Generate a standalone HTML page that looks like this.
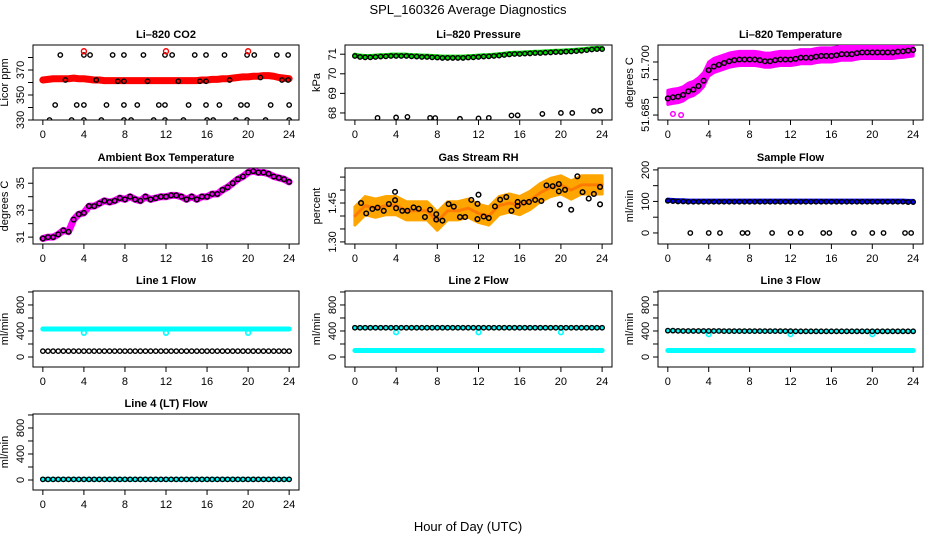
<!DOCTYPE html>
<html><head><meta charset="utf-8"><style>
html,body{margin:0;padding:0;background:#fff}
svg{display:block;font-family:"Liberation Sans",Arial,sans-serif}
</style></head><body>
<svg id="chart" width="936" height="540" viewBox="0 0 936 540" xmlns="http://www.w3.org/2000/svg">
<text x="468" y="14" text-anchor="middle" font-size="13">SPL_160326  Average Diagnostics</text>
<text x="468" y="531" text-anchor="middle" font-size="13">Hour of Day (UTC)</text>
</svg>
<script>
// ---- data (half-hour steps 0..24 unless times given) ----
const co2Band = [362,362.5,363,363,363,363,363.5,363,363,362.5,362,362,361.5,361.5,361.5,361.5,361.5,361.5,361.5,361.5,361.5,361.5,361.5,361.5,361.5,361.5,361.5,361.5,361.5,361.5,361.5,362,362,362.5,362.5,363,363,363.5,364,364.5,364.5,365,365,365.5,365.5,365,364,363.5,363];
const co2BlackT = [1.7,4.0,4.6,6.8,7.9,9.8,11.9,12.6,14.8,15.9,17.7,19.9,20.6,22.8,23.9, 1.2,3.3,4.0,6.2,7.9,9.2,11.3,11.9,14.2,15.9,17.2,19.3,19.9,22.2,24.0, 0.65,2.8,4.0,5.7,7.9,8.6,10.8,11.9,13.7,16.0,16.6,18.8,19.9,21.7,24.0, 2.2,5.2,7.3,7.9,10.2,13.2,15.3,15.9,18.2,21.2,23.3,23.9];
const co2BlackV = [382,382,382,382,382,382,382,382,382,382,382,382,382,382,382, 342,342,342,342,342,342,342,342,342,342,342,342,342,342,342, 330,330,330,330,330,330,330,330,330,330,330,330,330,330,330, 362,362,361,361,361,361,361,361,362,364,362,362];
const co2RedT = [4,12,20];
const co2RedV = [385,385,385];

const presBand = [70.95,70.9,70.88,70.88,70.9,70.92,70.93,70.95,70.95,70.95,70.95,70.93,70.92,70.9,70.9,70.88,70.87,70.85,70.85,70.85,70.85,70.85,70.87,70.88,70.9,70.92,70.93,70.95,70.97,71.0,71.03,71.05,71.05,71.07,71.08,71.1,71.1,71.12,71.13,71.15,71.15,71.17,71.18,71.2,71.22,71.25,71.28,71.3,71.3];
const presLowT = [2.2,4.0,5.1,7.3,7.8,10.2,12.0,13.0,15.2,15.8,18.2,20.0,21.1,23.2,23.8];
const presLowV = [67.75,67.77,67.8,67.75,67.74,67.7,67.72,67.75,67.87,67.88,67.95,68.0,68.0,68.1,68.12];

const tempBand = [51.690,51.6903,51.6905,51.691,51.692,51.6925,51.6935,51.695,51.698,51.699,51.6995,51.700,51.7005,51.7008,51.701,51.701,51.701,51.701,51.7008,51.7005,51.7005,51.7008,51.701,51.701,51.701,51.7012,51.7015,51.7015,51.7015,51.7018,51.702,51.702,51.702,51.7022,51.7025,51.7025,51.7025,51.7028,51.703,51.703,51.703,51.703,51.703,51.703,51.703,51.7032,51.7033,51.7035,51.7037];
const tempOutT = [0.5,1.3];
const tempOutV = [51.6853,51.6850];

const ambTemp = [30.9,31.0,31.0,31.2,31.5,31.4,32.3,32.7,32.8,33.3,33.3,33.5,33.7,33.6,33.7,33.9,33.8,34.0,33.8,33.7,34.0,33.8,33.9,34.0,34.0,34.1,34.1,34.0,33.8,34.0,33.8,34.0,34.0,34.2,34.2,34.5,34.7,35.0,35.3,35.5,35.8,35.9,35.8,35.8,35.7,35.5,35.4,35.3,35.1];

const rhCenter = [1.40,1.44,1.43,1.44,1.44,1.42,1.42,1.42,1.38,1.42,1.42,1.43,1.41,1.40,1.44,1.45,1.44,1.46,1.49,1.51,1.52,1.50,1.52,1.52,1.52];
const rhBlackT = [0.6,1.1,1.7,2.2,2.8,3.3,3.9,3.9,4.0,4.6,5.1,5.7,6.2,6.8,7.3,7.9,7.9,8.5,9.1,9.6,10.2,10.7,11.3,11.9,11.9,12.0,12.5,13.0,13.6,14.1,14.7,15.2,15.8,15.8,16.4,16.9,17.5,18.1,18.6,19.2,19.8,19.8,19.9,20.4,21.0,21.6,22.1,22.7,23.2,23.8,23.8];
const rhBlackV = [1.450,1.410,1.427,1.432,1.420,1.446,1.493,1.461,1.430,1.420,1.420,1.433,1.428,1.396,1.424,1.407,1.386,1.382,1.446,1.436,1.396,1.396,1.462,1.388,1.447,1.482,1.398,1.392,1.437,1.463,1.473,1.420,1.439,1.454,1.452,1.454,1.462,1.458,1.518,1.515,1.495,1.523,1.444,1.501,1.424,1.553,1.492,1.467,1.485,1.445,1.512];

const sampleBlue = [104,103,102,102,101,101,101,101,101,101,101,101,101,101,101,101,101,101,101,101,101,101,101,101,101,101,101,101,101,101,101,101,101,101,101,101,101,101,101,101,101,101,101,101,101,101,101,100,100];
const sampleZeroT = [2.2,4.0,5.1,7.3,7.8,10.2,12.0,13.0,15.2,15.8,18.2,20.0,21.1,23.2,23.8];
const sampleZeroV = [0,0,0,0,0,0,0,0,0,0,0,0,0,0,0];

const line1Cyan = [430,430,430,430,430,430,430,430,430,430,430,430,430,430,430,430,430,430,430,430,430,430,430,430,430,430,430,430,430,430,430,430,430,430,430,430,430,430,430,430,430,430,430,430,430,430,430,430,430];
const line1Black = [90,90,90,90,90,90,90,90,90,90,90,90,90,90,90,90,90,90,90,90,90,90,90,90,90,90,90,90,90,90,90,90,90,90,90,90,90,90,90,90,90,90,90,90,90,90,90,90,90];
const line2Cyan = [100,100,100,100,100,100,100,100,100,100,100,100,100,100,100,100,100,100,100,100,100,100,100,100,100,100,100,100,100,100,100,100,100,100,100,100,100,100,100,100,100,100,100,100,100,100,100,100,100];
const line2Black = [450,450,450,450,450,450,450,450,450,450,450,450,450,450,450,450,450,450,450,450,450,450,450,450,450,450,450,450,450,450,450,450,450,450,450,450,450,450,450,450,450,450,450,450,450,450,450,450,450];
const line3Cyan = [100,100,100,100,100,100,100,100,100,100,100,100,100,100,100,100,100,100,100,100,100,100,100,100,100,100,100,100,100,100,100,100,100,100,100,100,100,100,100,100,100,100,100,100,100,100,100,100,100];
const line3Black = [405,405,402,400,400,400,400,400,400,400,400,398,398,398,398,398,398,398,398,398,398,398,398,398,398,395,395,395,395,395,395,395,395,395,395,395,395,395,395,395,395,395,395,395,395,395,395,395,395];
const line4Cyan = [10,10,10,10,10,10,10,10,10,10,10,10,10,10,10,10,10,10,10,10,10,10,10,10,10,10,10,10,10,10,10,10,10,10,10,10,10,10,10,10,10,10,10,10,10,10,10,10,10];
const line4Black = [10,10,10,10,10,10,10,10,10,10,10,10,10,10,10,10,10,10,10,10,10,10,10,10,10,10,10,10,10,10,10,10,10,10,10,10,10,10,10,10,10,10,10,10,10,10,10,10,10];
const cyanDipT = [4,12,20];
const line1DipV = [370,370,370];
const line2DipV = [380,380,380];
const line3DipV = [350,350,350];

const xTicks = [0,4,8,12,16,20,24];

const NS = "http://www.w3.org/2000/svg";
const svg = document.getElementById('chart');
function mk(tag, attrs, parent){const e=document.createElementNS(NS,tag);for(const k in attrs)e.setAttribute(k,attrs[k]);(parent||svg).appendChild(e);return e;}

const cols = [{l:33,r:299},{l:345,r:612},{l:658,r:923}];
const rows = [{t:45,b:120},{t:168,b:244},{t:291,b:367},{t:414,b:490}];

function panel(name, c, r, title, ytitle, dom, ticks, labels, fmt){
  const g = mk('g',{});
  
  
  const L=cols[c].l, R=cols[c].r, T=rows[r].t, B=rows[r].b;
  const x0 = L + (R-L)*0.04/1.08, x1 = R - (R-L)*0.04/1.08;
  const xs = h => x0 + (x1-x0)*h/24;
  const ys = v => B - (v-dom[0])/(dom[1]-dom[0])*(B-T);
  const box = mk('rect',{x:L,y:T,width:R-L,height:B-T,fill:'none',stroke:'#000','stroke-width':1},g);
  
  
  const tt = mk('text',{x:(L+R)/2,y:T-7,'text-anchor':'middle','font-size':11,'font-weight':'bold'},g);
  tt.textContent = title;
  
  
  const xa = mk('g',{},g);
  
  
  xTicks.forEach(h=>{
    mk('line',{x1:xs(h),x2:xs(h),y1:B,y2:B+5,stroke:'#000'},xa);
    const t=mk('text',{x:xs(h),y:B+18,'text-anchor':'middle','font-size':11},xa);
    t.textContent=h;
    
    
  });
  const ya = mk('g',{},g);
  
  
  ticks.forEach(v=>{
    mk('line',{x1:L-5,x2:L,y1:ys(v),y2:ys(v),stroke:'#000'},ya);
  });
  labels.forEach(v=>{
    const t=mk('text',{x:0,y:0,'text-anchor':'middle','font-size':11,transform:`translate(${L-9},${ys(v)}) rotate(-90)`},ya);
    t.textContent=fmt?fmt(v):v;
    
    
  });
  const yt = mk('text',{x:0,y:0,'text-anchor':'middle','font-size':11,transform:`translate(${L-25},${(T+B)/2}) rotate(-90)`},g);
  yt.textContent = ytitle;
  
  
  const clip = 'clip'+name;
  const cp = mk('clipPath',{id:clip},g); mk('rect',{x:L,y:T,width:R-L,height:B-T},cp);
  const marks = mk('g',{'clip-path':`url(#${clip})`},g);
  
  
  return {xs,ys,g:marks};
}
function halfT(i){return i*0.5;}
function band(p, arr, color, w, name, tf){
  const pts = arr.map((v,i)=>`${p.xs(tf?tf(i):halfT(i))},${p.ys(v)}`).join(' ');
  const e = mk('polyline',{points:pts,fill:'none',stroke:color,'stroke-width':w,'stroke-linejoin':'round','stroke-linecap':'round'},p.g);
  
  
}
function dots(p, ts, vs, color, name, r, sw){
  const g = mk('g',{},p.g);
  
  
  vs.forEach((v,i)=>{
    const t = ts ? ts[i] : halfT(i);
    const c = mk('circle',{cx:p.xs(t),cy:p.ys(v),r:r||2.3,fill:'none',stroke:color,'stroke-width':sw||1.6},g);
    
    
  });
}
function area(p, lo, hi, fill, name, tf){
  const up = hi.map((v,i)=>`${p.xs(tf(i))},${p.ys(v)}`);
  const dn = lo.map((v,i)=>`${p.xs(tf(i))},${p.ys(v)}`).reverse();
  const e = mk('polygon',{points:up.concat(dn).join(' '),fill:fill,stroke:fill,'stroke-width':3,'stroke-linejoin':'round'},p.g);
  
  
}
const seq = (a,b,s)=>{const o=[];for(let v=a;v<=b+1e-9;v+=s)o.push(+v.toFixed(4));return o;};

// CO2
let p = panel('co2-panel',0,0,'Li\u2013820 CO2','Licor ppm',[330,390],seq(330,380,10),[330,350,370]);
band(p, co2Band, '#ff0000', 7, 'co2-series');
dots(p, co2BlackT, co2BlackV, '#000', 'co2-averages', 2.2, 1.4);
dots(p, co2RedT, co2RedV, '#ff0000', 'co2-outliers', 2.5, 1.4);

// Pressure
p = panel('pressure-panel',1,0,'Li\u2013820 Pressure','kPa',[67.64,71.47],[68,69,70,71],[68,69,70,71]);
band(p, presBand, '#00dd00', 5, 'pressure-series');
dots(p, null, presBand.map(v=>v-0.04), '#000', 'pressure-averages', 2.2, 1.4);
dots(p, presLowT, presLowV, '#000', 'pressure-low-points', 2.2, 1.4);

// Temperature
p = panel('licor-temp-panel',2,0,'Li\u2013820 Temperature','degrees C',[51.6836,51.7048],[51.685,51.690,51.695,51.700],[51.685,51.700],v=>v.toFixed(3));
area(p, tempBand.map(v=>v-0.002), tempBand.map(v=>v+0.002), '#ff00ff', 'temp-band', halfT);
dots(p, null, tempBand.map(v=>v-0.0003), '#000', 'temp-averages', 2.3, 1.5);
dots(p, tempOutT, tempOutV, '#ff00ff', 'temp-outliers', 2.3, 1.5);

// Ambient
p = panel('ambient-temp-panel',0,1,'Ambient Box Temperature','degrees C',[30.49,36.13],[31,32,33,34,35],[31,33,35]);
band(p, ambTemp, '#ff00ff', 7, 'ambient-series');
dots(p, null, ambTemp, '#000', 'ambient-averages', 2.3, 1.5);

// RH
p = panel('rh-panel',1,1,'Gas Stream RH','percent',[1.292,1.585],[1.30,1.35,1.40,1.45,1.50,1.55],[1.30,1.45],v=>v.toFixed(2));
area(p, rhCenter.map(v=>v-0.035), rhCenter.map(v=>v+0.035), '#ffa500', 'rh-band', i=>i);
band(p, rhCenter, 'rgba(255,0,0,0.25)', 3, 'rh-center', i=>i);
dots(p, rhBlackT, rhBlackV, '#000', 'rh-averages', 2.3, 1.5);

// Sample flow
p = panel('sample-flow-panel',2,1,'Sample Flow','ml/min',[-35,206],[0,50,100,150,200],[0,100,200]);
band(p, sampleBlue, '#0000ff', 5, 'sample-flow-series');
dots(p, null, sampleBlue.map(v=>v-2), '#000', 'sample-flow-averages', 2.2, 1.4);
dots(p, sampleZeroT, sampleZeroV, '#000', 'sample-flow-zero', 2.2, 1.4);

const lt = seq(0,1000,200), ll=[0,400,800];
p = panel('line1-panel',0,2,'Line 1 Flow','ml/min',[-154,1015],lt,ll);
band(p, line1Cyan, '#00ffff', 5, 'line1-cyan');
dots(p, cyanDipT, line1DipV, '#00ffff', 'line1-dips', 2.3, 1.6);
dots(p, null, line1Black, '#000', 'line1-black', 2.2, 1.4);

p = panel('line2-panel',1,2,'Line 2 Flow','ml/min',[-154,1015],lt,ll);
band(p, line2Cyan, '#00ffff', 5, 'line2-cyan');
band(p, line2Black, '#00ffff', 4, 'line2-cyan-upper');
dots(p, cyanDipT, line2DipV, '#00ffff', 'line2-dips', 2.3, 1.6);
dots(p, null, line2Black, '#000', 'line2-black', 2.2, 1.4);

p = panel('line3-panel',2,2,'Line 3 Flow','ml/min',[-154,1015],lt,ll);
band(p, line3Cyan, '#00ffff', 5, 'line3-cyan');
band(p, line3Black, '#00ffff', 4, 'line3-cyan-upper');
dots(p, cyanDipT, line3DipV, '#00ffff', 'line3-dips', 2.3, 1.6);
dots(p, null, line3Black, '#000', 'line3-black', 2.2, 1.4);

p = panel('line4-panel',0,3,'Line 4 (LT) Flow','ml/min',[-154,1015],lt,ll);
band(p, line4Cyan, '#00ffff', 5, 'line4-cyan');
dots(p, null, line4Black, '#000', 'line4-black', 2.2, 1.4);
</script>
</body></html>
